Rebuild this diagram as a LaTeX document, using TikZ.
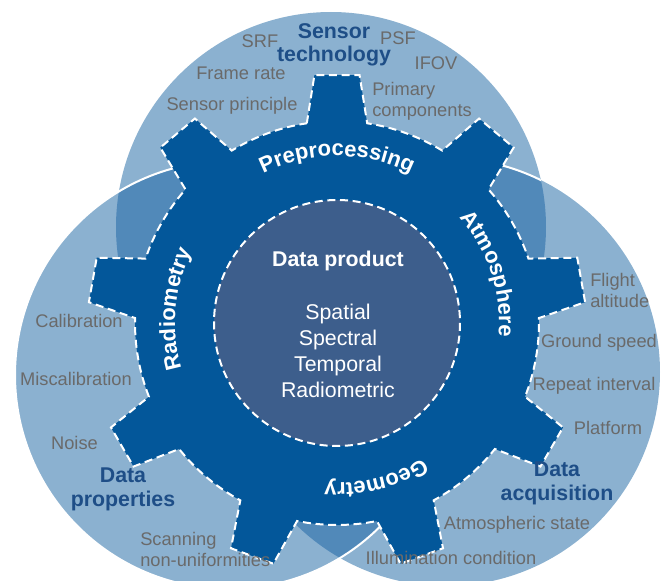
\documentclass[tikz,border=0pt]{standalone}
\usepackage{fontspec}
\setmainfont{Liberation Sans}
\usetikzlibrary{decorations.text}

\definecolor{venncol}{HTML}{8BB1D0}
\definecolor{overcol}{HTML}{5189B9}
\definecolor{gearcol}{HTML}{03579A}
\definecolor{prodcol}{HTML}{3D5E8C}
\definecolor{itemcol}{HTML}{6A6A6A}
\definecolor{headcol}{HTML}{1E4E87}

\tikzset{
  venn/.style={fill=venncol},
  overlap/.style={fill=overcol},
  rim/.style={draw=white, line width=1.5pt},
  dashrim/.style={draw=white, line width=1.5pt, dash pattern=on 6pt off 3.5pt},
  item/.style={text=itemcol, inner sep=0pt, font=\fontsize{13.7}{16}\selectfont},
  head/.style={text=headcol, inner sep=0pt, align=center, font=\bfseries\fontsize{16}{17.5}\selectfont},
  prodhead/.style={text=white, inner sep=0pt, font=\bfseries\fontsize{16}{19.5}\selectfont},
  prodlist/.style={text=white, inner sep=0pt, align=center, font=\fontsize{16}{19.5}\selectfont},
  geartext/.style={decorate, decoration={text along path, text align=center,
    text={|\color{white}\bfseries\fontsize{16.5}{18}\selectfont|#1}}}
}

\begin{document}
\begin{tikzpicture}[x=0.75pt,y=0.75pt,yscale=-1,xscale=1]
\useasboundingbox (0,0) rectangle (662,581);
\clip (0,0) rectangle (662,581);

\coordinate (ctop) at (331,227);
\coordinate (cleft) at (229,375);
\coordinate (cright) at (446,372);
\coordinate (cgear) at (337,323);

%Shape: Circle [Sensor technology]
\fill[venn] (ctop) circle[radius=215];
%Shape: Circle [Data acquisition]
\fill[venn] (cright) circle[radius=214];
%Shape: Circle [Data properties]
\fill[venn] (cleft) circle[radius=214];

% overlaps
\begin{scope}
\clip (ctop) circle[radius=215];
\fill[overlap] (cleft) circle[radius=214];
\fill[overlap] (cright) circle[radius=214];
\end{scope}
\begin{scope}
\clip (cleft) circle[radius=214];
\fill[overlap] (cright) circle[radius=214];
\end{scope}

% white rims
\begin{scope}
\clip (ctop) circle[radius=215];
\path[rim] (cright) circle[radius=214];
\end{scope}
\path[rim] (cleft) circle[radius=214];

%Shape: Gear
\begin{scope}[shift={(cgear)}]
\path[fill=gearcol, dashrim] (-98.6:202)
  \foreach \a in {-90,-50,...,230} {
    -- ({\a-8.6}:202) -- ({\a-5.2}:249) -- ({\a+5.2}:249) -- ({\a+8.6}:202)
    arc[start angle=\a+8.6, end angle=\a+31.4, radius=202]
  } -- cycle;

%Shape: Circle [Data product]
\path[fill=prodcol, dashrim] (0,0) circle[radius=123];

% gear labels
\path[geartext=Preprocessing] (-125:167) arc[start angle=-125, end angle=-55, radius=167];
\path[geartext=Atmosphere] (-53:162) arc[start angle=-53, end angle=17, radius=162];
\path[geartext=Geometry] (41:160) arc[start angle=41, end angle=111, radius=160];
\path[geartext=Radiometry] (-210:162) arc[start angle=-210, end angle=-140, radius=162];
\end{scope}

% Text Node
\node[prodhead, anchor=base] (prodtitle) at (338,267) {Data product};
% Text Node
\node[prodlist, anchor=north] (prodkinds) at (338,304) {Spatial\\Spectral\\Temporal\\Radiometric};

% Text Node
\node[head, anchor=north] (sensortech) at (334,23) {Sensor\\technology};
% Text Node
\node[head, anchor=north] (dataprop) at (123,468) {Data\\properties};
% Text Node
\node[head, anchor=north] (dataacq) at (557,462) {Data\\acquisition};

% Text Node
\node[item, anchor=base] (srf) at (260,48) {SRF};
\node[item, anchor=base] (psf) at (398,45) {PSF};
\node[item, anchor=base] (ifov) at (436,70) {IFOV};
\node[item, anchor=base] (framerate) at (241,80) {Frame rate};
\node[item, anchor=base] (principle) at (232,111) {Sensor principle};
\node[item, anchor=north west, align=left] (primary) at (372,82) {Primary\\components};
% Text Node
\node[item, anchor=base] (calib) at (79,328) {Calibration};
\node[item, anchor=base] (miscalib) at (76,386) {Miscalibration};
\node[item, anchor=base] (noise) at (74.5,450) {Noise};
\node[item, anchor=north west, align=left] (scanning) at (140,532) {Scanning\\non-uniformities};
% Text Node
\node[item, anchor=north west, align=left] (flight) at (590,273) {Flight\\altitude};
\node[item, anchor=base] (groundspeed) at (599,348) {Ground speed};
\node[item, anchor=base] (repeat) at (594,391) {Repeat interval};
\node[item, anchor=base] (platform) at (608,435) {Platform};
\node[item, anchor=base] (atmstate) at (517,530) {Atmospheric state};
\node[item, anchor=base] (illum) at (451,565) {Illumination condition};
\end{tikzpicture}
\end{document}
